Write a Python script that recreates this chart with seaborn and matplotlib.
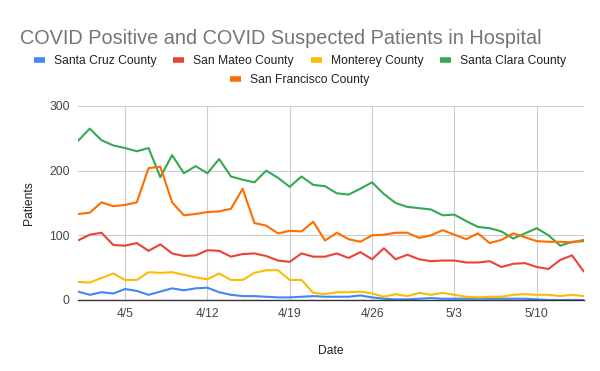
import pandas as pd
import matplotlib
matplotlib.use('Agg')
import matplotlib.pyplot as plt
import matplotlib.dates as mdates
from matplotlib.lines import Line2D
import seaborn as sns

# Daily values, 4/1 through 5/14
dates = pd.date_range('2020-04-01', '2020-05-14', freq='D')
tick_dates = pd.to_datetime(['2020-04-05', '2020-04-12', '2020-04-19',
                             '2020-04-26', '2020-05-03', '2020-05-10'])

santa_cruz = [13, 8, 12, 10, 17, 14, 8, 13, 18, 15, 18, 19, 12, 8, 6, 6, 5, 4, 4, 5, 6, 5,
              5, 5, 7, 4, 2, 1, 1, 2, 3, 2, 2, 2, 2, 2, 2, 2, 2, 1, 0, 0, 0, 0]
san_mateo = [92, 101, 104, 85, 84, 88, 76, 86, 72, 68, 69, 77, 76, 67, 71, 72, 68, 61, 59, 72, 67, 67,
             72, 65, 74, 63, 80, 63, 70, 63, 60, 61, 61, 58, 58, 60, 51, 56, 57, 51, 48, 62, 69, 44]
monterey = [28, 27, 34, 41, 31, 31, 43, 42, 43, 39, 35, 32, 41, 31, 31, 42, 46, 46, 31, 31, 11, 9,
            12, 12, 13, 10, 5, 9, 6, 11, 8, 11, 8, 5, 4, 5, 5, 8, 9, 8, 8, 6, 8, 6]
santa_clara = [246, 265, 247, 239, 235, 230, 235, 190, 224, 196, 207, 196, 218, 191, 186, 182, 200, 189,
               175, 191, 178, 176, 165, 163, 172, 182, 164, 150, 144, 142, 140, 131, 132, 122, 113, 111,
               106, 95, 103, 111, 100, 84, 90, 91]
san_francisco = [133, 135, 151, 145, 147, 151, 204, 206, 151, 131, 133, 136, 137, 141, 172, 119, 115, 103,
                 107, 106, 121, 92, 104, 94, 90, 100, 101, 104, 104, 96, 100, 108, 101, 94, 103, 88,
                 93, 103, 97, 91, 90, 90, 89, 93]

counties = ['Santa Cruz County', 'San Mateo County', 'Monterey County',
            'Santa Clara County', 'San Francisco County']
colors = ['#4285F4', '#EA4335', '#FBBC04', '#34A853', '#FF6D01']

frames = []
for name, vals in zip(counties, [santa_cruz, san_mateo, monterey, santa_clara, san_francisco]):
    frames.append(pd.DataFrame({'Date': dates, 'Patients': vals, 'County': name}))
df = pd.concat(frames, ignore_index=True)

sns.set_style('white')
plt.rcParams['font.family'] = ['Liberation Sans', 'DejaVu Sans']

fig = plt.figure(figsize=(6, 3.71), dpi=100)
ax = fig.add_axes([0.13, 0.1914, 0.843, 0.5229])

sns.lineplot(data=df, x='Date', y='Patients', hue='County', hue_order=counties,
             palette=colors, linewidth=1.5, ax=ax, legend=False)

ax.set_xlim(dates[0], dates[-1])
ax.set_ylim(0, 300)
ax.set_yticks([0, 100, 200, 300])
ax.set_xticks(tick_dates)
ax.xaxis.set_major_formatter(mdates.DateFormatter('%-m/%-d'))
ax.grid(True, color='#cccccc', linewidth=0.8)
ax.set_axisbelow(True)
for s in ['top', 'right', 'left']:
    ax.spines[s].set_visible(False)
ax.spines['bottom'].set_color('#333333')
ax.spines['bottom'].set_linewidth(1)
ax.tick_params(axis='both', length=0, labelsize=8.7, colors='#444444', pad=6)
ax.set_xlabel('Date', fontsize=8.7, color='#222222', labelpad=18)
ax.set_ylabel('Patients', fontsize=8.7, color='#222222', labelpad=10)

fig.text(0.033, 0.881, 'COVID Positive and COVID Suspected Patients in Hospital',
         fontsize=14.3, color='#757575', va='baseline', ha='left')

handles = [Line2D([0], [0], color=c, linewidth=4, solid_capstyle='butt') for c in colors]
leg_kw = dict(frameon=False, fontsize=8.7, handlelength=0.9, handletextpad=0.75,
              columnspacing=1.4, borderaxespad=0, borderpad=0)
leg1 = fig.legend(handles[:4], counties[:4], loc='center', bbox_to_anchor=(0.5, 0.836),
                  ncol=4, **leg_kw)
leg2 = fig.legend(handles[4:], counties[4:], loc='center', bbox_to_anchor=(0.5, 0.784),
                  ncol=1, **leg_kw)
for leg in (leg1, leg2):
    for t in leg.get_texts():
        t.set_color('#222222')

fig.savefig('out.png', dpi=100)
